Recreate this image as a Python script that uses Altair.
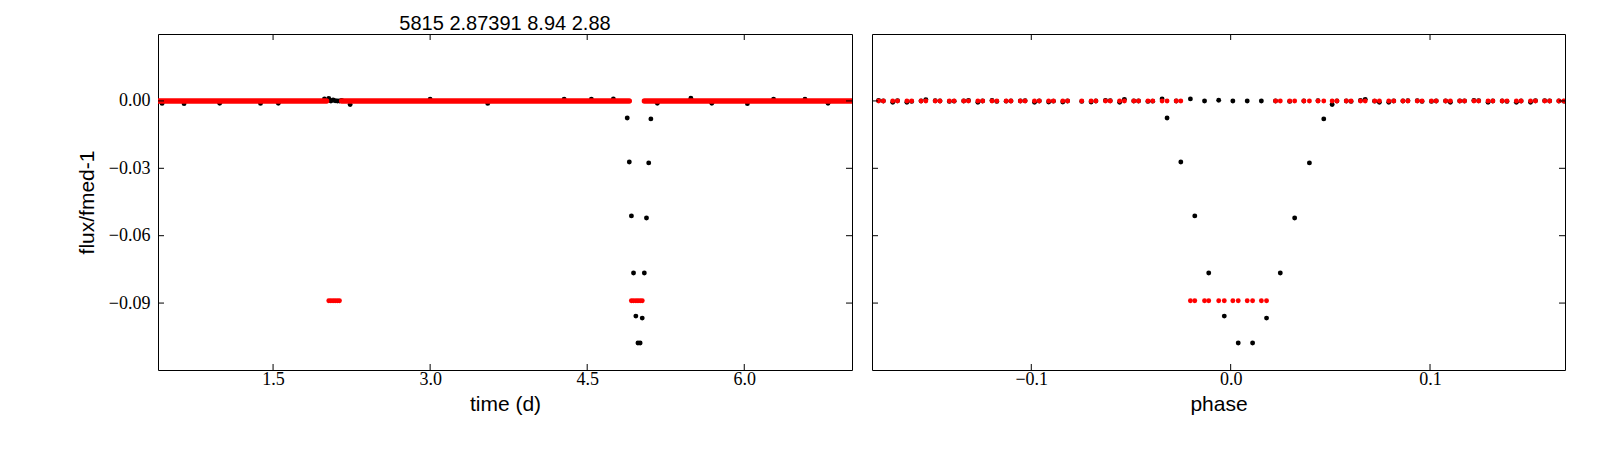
import altair as alt
import pandas as pd

# ---------------- text ----------------
TITLE = "5815 2.87391 8.94 2.88"
X_TITLE_LEFT = "time (d)"
X_TITLE_RIGHT = "phase"
Y_TITLE = "flux/fmed-1"

# ---------------- axes ----------------
TIME_DOMAIN = [0.401, 7.029]
PHASE_DOMAIN = [-0.1799, 0.1677]
FLUX_DOMAIN = [-0.1198, 0.0298]
TIME_TICKS = [1.5, 3.0, 4.5, 6.0]
PHASE_TICKS = [-0.1, 0.0, 0.1]
FLUX_TICKS = [0.0, -0.03, -0.06, -0.09]

# ---------------- left panel: time series ----------------
# model (red) out of transit, drawn as continuous runs of points at flux 0
band_start = [0.35, 2.155, 5.046]
band_end = [2.0115, 4.902, 7.10]
band_flux = [0.0, 0.0, 0.0]
# model (red) in transit
model_in_time = [2.032, 2.052, 2.073, 2.093, 2.114, 2.134,
                 4.922, 4.942, 4.965, 4.985, 5.006, 5.026]
model_in_flux = [-0.089] * 12

# data (black) visible around the transits
data_time = [4.8823, 4.9022, 4.9223, 4.9424, 4.9648, 4.9849,
             5.0056, 5.0257, 5.0456, 5.0663, 5.0875, 5.1082,
             1.991, 2.0115, 2.032, 2.052, 2.073, 2.093, 2.114, 2.134, 2.155, 2.236]
data_flux = [-0.0076, -0.0272, -0.0512, -0.0766, -0.0958, -0.1078,
             -0.1078, -0.0967, -0.0766, -0.0521, -0.0276, -0.0080,
             0.0009, 0.0002, 0.0011, 0.0, 0.0004, 0.0001, 0.0, 0.0, 0.0002, -0.0016]
# data (black) peeking out of the model band elsewhere
noise_time = [0.44, 0.65, 0.99, 1.38, 1.55, 3.00, 3.55, 4.28, 4.54, 4.75,
              5.17, 5.49, 5.69, 6.03, 6.28, 6.58, 6.80]
noise_flux = [-0.0011, -0.0012, -0.0010, -0.0011, -0.0010, 0.0008, -0.0011, 0.0008, 0.0008, 0.0009,
              -0.0010, 0.0012, -0.0010, -0.0012, 0.0008, 0.0008, -0.0010]

# ---------------- right panel: folded ----------------
phase_1 = [-0.1766, -0.1695, -0.1624, -0.1553, -0.1482, -0.1411, -0.1339, -0.1268, -0.1197, -0.1126,
           -0.1055, -0.0984, -0.0913, -0.0842, -0.0700, -0.0628, -0.0557, -0.0486, -0.0415, -0.0344,
           -0.0273, -0.0202, -0.0131, -0.0060, 0.0011, 0.0083, 0.0154, 0.0225, 0.0296, 0.0367,
           0.0438, 0.0509, 0.0580, 0.0651, 0.0722, 0.0793, 0.0864, 0.0936, 0.1007, 0.1078,
           0.1149, 0.1220, 0.1291, 0.1362, 0.1433, 0.1504, 0.1575, 0.1646]
flux_1 = [0.0002, -0.0006, -0.0006, 0.0, 0.0001, -0.0002, 0.0, -0.0006, 0.0002, -0.0001,
          0.0, -0.0006, -0.0005, -0.0005, -0.0005, 0.0002, -0.0006, 0.0, -0.0002, 0.0009,
          0.0, 0.0009, 0.0, 0.0003, 0.0, 0.0, 0.0, 0.0, -0.0002, 0.0,
          0.0001, -0.0016, 0.0, 0.0002, -0.0001, -0.0006, 0.0, 0.0001, -0.0002, 0.0,
          0.0, 0.0002, -0.0006, 0.0, -0.0006, -0.0006, 0.0001, 0.0]
model_1 = [0.0] * 21 + [-0.089] * 6 + [0.0] * 21

phase_2 = [-0.1742, -0.1671, -0.1600, -0.1529, -0.1458, -0.1387, -0.1315, -0.1244, -0.1173, -0.1102,
           -0.1031, -0.0960, -0.0889, -0.0818, -0.0747, -0.0676, -0.0604, -0.0533, -0.0462, -0.0391,
           -0.0319, -0.0250, -0.0180, -0.0110, -0.0032, 0.0038, 0.0110, 0.0180, 0.0249, 0.0321,
           0.0395, 0.0467, 0.0533, 0.0604, 0.0675, 0.0746, 0.0818, 0.0889, 0.0960, 0.1031,
           0.1102, 0.1173, 0.1244, 0.1315, 0.1386, 0.1457, 0.1529, 0.1600, 0.1671]
flux_2 = [0.0, 0.0001, -0.0002, 0.0006, 0.0, -0.0001, 0.0002, 0.0, -0.0002, 0.0,
          0.0001, 0.0, -0.0001, 0.0, -0.0002, 0.0, 0.0001, 0.0007, 0.0, -0.0001,
          -0.0076, -0.0272, -0.0512, -0.0766, -0.0958, -0.1078, -0.1078, -0.0967, -0.0766, -0.0521,
          -0.0276, -0.0080, 0.0, -0.0002, 0.0007, -0.0006, 0.0, 0.0001, -0.0002, 0.0,
          -0.0006, 0.0, 0.0001, 0.0, -0.0002, 0.0, 0.0001, 0.0, -0.0001]
model_2 = [0.0] * 22 + [-0.089] * 6 + [0.0] * 21

# ---------------- styling ----------------
W_LEFT, W_RIGHT, H = 694, 693, 336
TICK_LEN = 6
DOT = 24
RED = "#ff0000"

t_scale = alt.Scale(domain=TIME_DOMAIN, nice=False, zero=False)
p_scale = alt.Scale(domain=PHASE_DOMAIN, nice=False, zero=False)
f_scale = alt.Scale(domain=FLUX_DOMAIN, nice=False, zero=False)

X_LEFT = alt.X("x:Q", scale=t_scale, title=X_TITLE_LEFT,
               axis=alt.Axis(values=TIME_TICKS, format=".1f", labelPadding=0, titlePadding=5))
X_RIGHT = alt.X("x:Q", scale=p_scale, title=X_TITLE_RIGHT,
                axis=alt.Axis(values=PHASE_TICKS, format=".1f", labelPadding=0, titlePadding=5))
Y_LEFT = alt.Y("y:Q", scale=f_scale, title=Y_TITLE,
               axis=alt.Axis(values=FLUX_TICKS, format=".2f", labelPadding=8, titlePadding=11))
Y_RIGHT = alt.Y("y:Q", scale=f_scale, axis=None)


def frame_ticks(xticks, yticks, xenc, yenc, w, h):
    xt = pd.DataFrame({"x": xticks})
    yt = pd.DataFrame({"y": yticks})
    base_x = alt.Chart(xt).mark_rule(color="black", strokeWidth=1)
    base_y = alt.Chart(yt).mark_rule(color="black", strokeWidth=1)
    return [
        base_x.encode(x=xenc, y=alt.value(h), y2=alt.value(h - TICK_LEN)),
        base_x.encode(x=xenc, y=alt.value(0), y2=alt.value(TICK_LEN)),
        base_y.encode(y=yenc, x=alt.value(0), x2=alt.value(TICK_LEN)),
        base_y.encode(y=yenc, x=alt.value(w - TICK_LEN), x2=alt.value(w)),
    ]


# ---- left panel ----
black_left = pd.DataFrame({"x": data_time + noise_time, "y": data_flux + noise_flux})
red_left = pd.DataFrame({"x": model_in_time, "y": model_in_flux})
band_left = pd.DataFrame({"x": band_start, "x2": band_end, "y": band_flux})

left_pts = alt.Chart(black_left).mark_circle(size=DOT, color="black", opacity=1, clip=True).encode(
    x=X_LEFT, y=Y_LEFT)
left_band = alt.Chart(band_left).mark_rule(color=RED, strokeWidth=5.4, strokeCap="round", clip=True).encode(
    x=X_LEFT, x2="x2:Q", y=Y_LEFT)
left_red = alt.Chart(red_left).mark_circle(size=DOT, color=RED, opacity=1, clip=True).encode(
    x=X_LEFT, y=Y_LEFT)
left = alt.layer(
    left_pts, left_band, left_red,
    *frame_ticks(TIME_TICKS, FLUX_TICKS, X_LEFT, Y_LEFT, W_LEFT, H)
).properties(
    width=W_LEFT, height=H,
    title=alt.TitleParams(TITLE, font="Liberation Sans", fontSize=20, fontWeight="normal",
                          color="black", anchor="middle", frame="group", offset=0),
)

# ---- right panel ----
black_right = pd.DataFrame({"x": phase_1 + phase_2, "y": flux_1 + flux_2})
red_right = pd.DataFrame({"x": phase_1 + phase_2, "y": model_1 + model_2})

right_pts = alt.Chart(black_right).mark_circle(size=DOT, color="black", opacity=1, clip=True).encode(
    x=X_RIGHT, y=Y_RIGHT)
right_red = alt.Chart(red_right).mark_circle(size=DOT, color=RED, opacity=1, clip=True).encode(
    x=X_RIGHT, y=Y_RIGHT)
right = alt.layer(
    right_pts, right_red,
    *frame_ticks(PHASE_TICKS, FLUX_TICKS, X_RIGHT, Y_RIGHT, W_RIGHT, H)
).properties(width=W_RIGHT, height=H)

chart = alt.hconcat(left, right, spacing=18).properties(
    padding={"left": 67, "top": 5, "right": 5, "bottom": 5},
    background="white",
).configure_view(
    stroke="black", strokeWidth=1
).configure_axis(
    grid=False, ticks=False, domain=False,
    labelFont="Liberation Serif", labelFontSize=18, labelColor="black",
    titleFont="Liberation Sans", titleFontSize=21, titleFontWeight="normal", titleColor="black",
)

chart.save("out.html", embed_options={"renderer": "svg", "actions": False})
